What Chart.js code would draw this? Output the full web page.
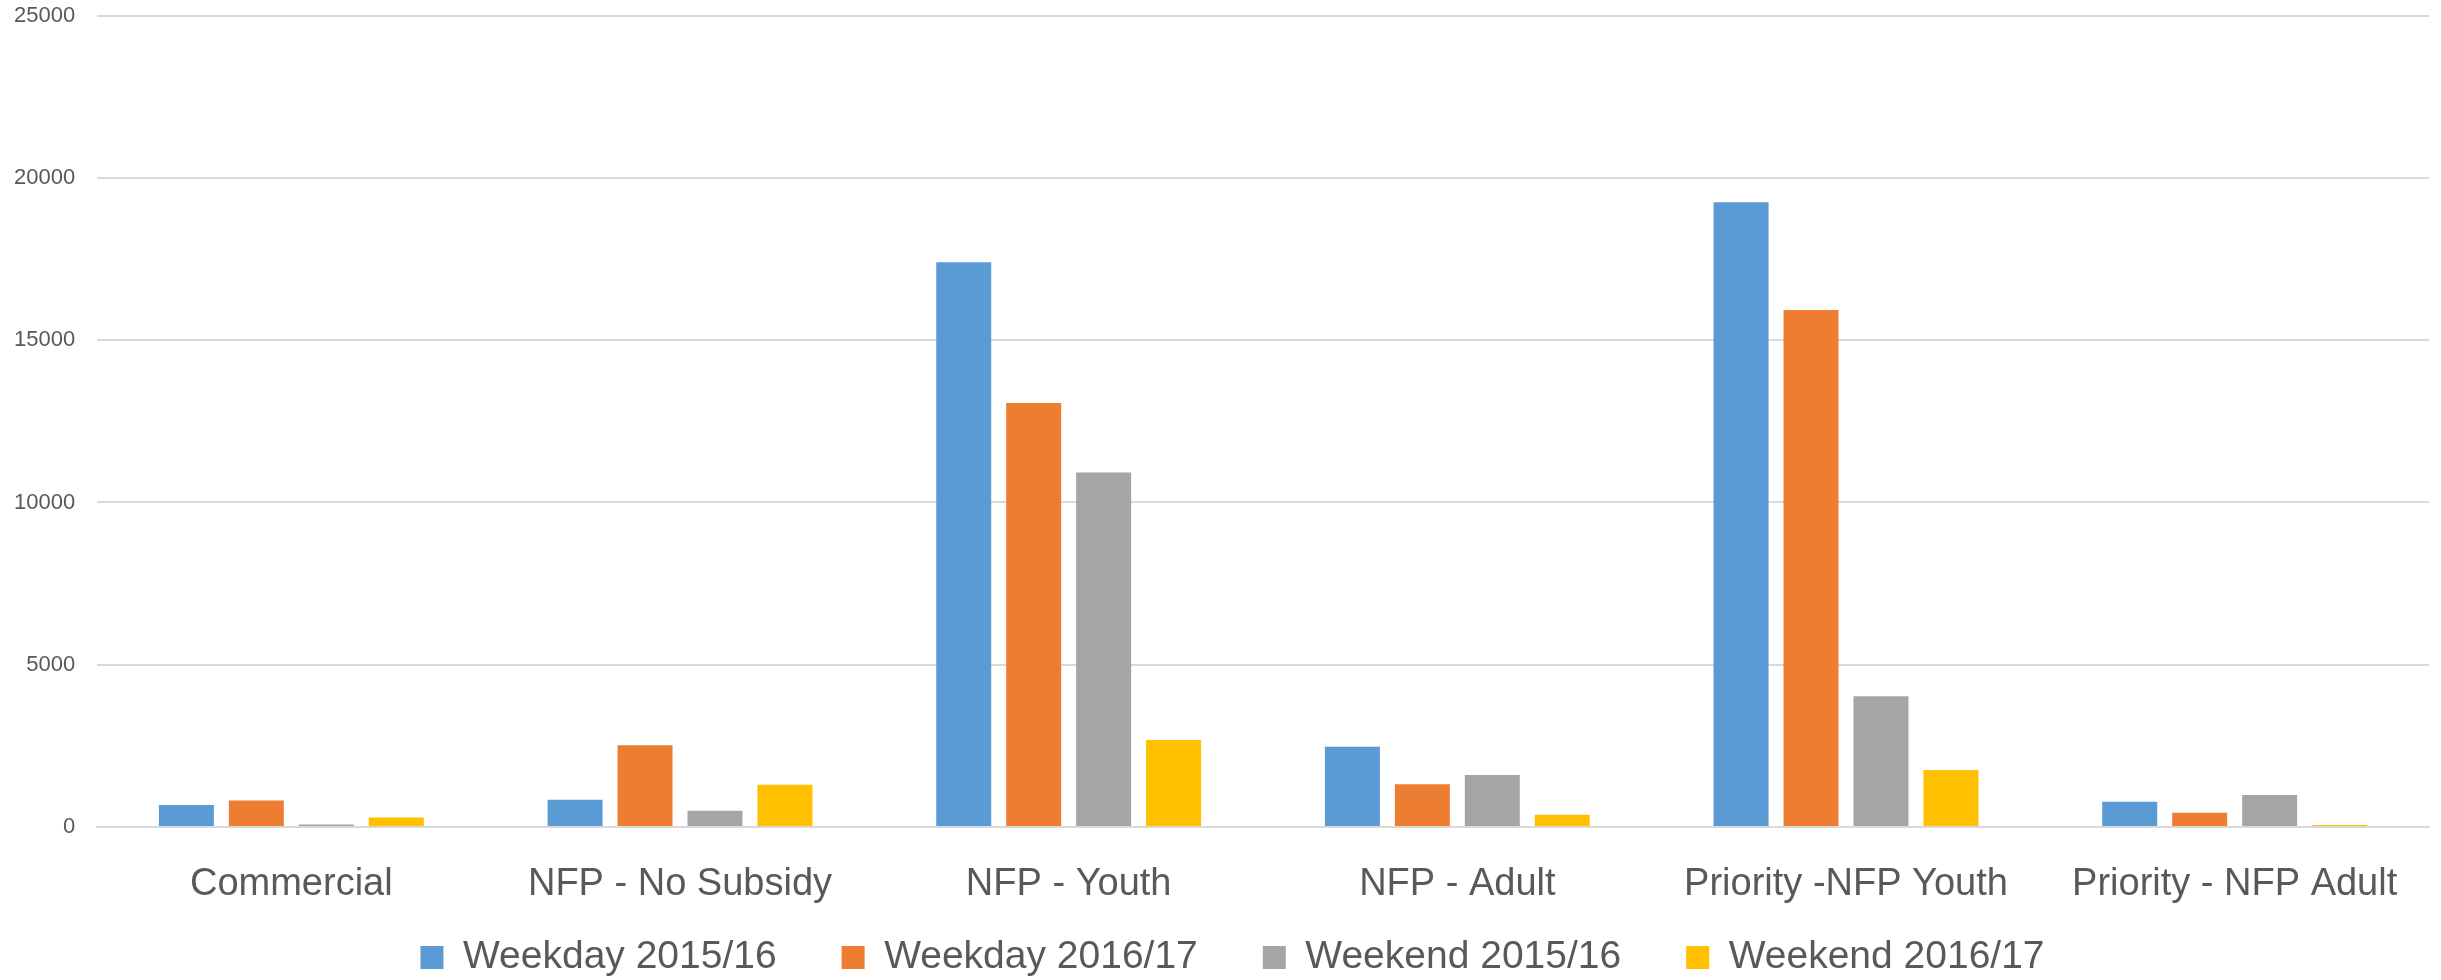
<!DOCTYPE html>
<html>
<head>
<meta charset="utf-8">
<script src="https://cdn.jsdelivr.net/npm/chart.js@4"></script>
<style>
  html, body { margin: 0; padding: 0; background: #ffffff; }
  #wrap { width: 2441px; height: 980px; }
</style>
</head>
<body>
<div id="wrap"><canvas id="canvas" width="2441" height="980"></canvas></div>
<script>
const categories = ["Commercial", "NFP - No Subsidy", "NFP - Youth", "NFP - Adult", "Priority -NFP Youth", "Priority - NFP Adult"];
const weekday1516 = [680, 840, 17400, 2470, 19250, 780];
const weekday1617 = [820, 2520, 13060, 1320, 15930, 440];
const weekend1516 = [80, 500, 10920, 1600, 4030, 985];
const weekend1617 = [290, 1300, 2680, 380, 1760, 60];
const yTicks = [0, 5000, 10000, 15000, 20000, 25000];

const textColor = "#595959";
const gridColor = "#d9d9d9";
const fontFamily = "'Liberation Sans', Arial, sans-serif";

const canvas = document.querySelector("#canvas");
const chart = new Chart(canvas, {
  type: "bar",
  data: {
    labels: categories,
    datasets: [
      { label: "Weekday 2015/16", data: weekday1516, backgroundColor: "#5b9bd5" },
      { label: "Weekday 2016/17", data: weekday1617, backgroundColor: "#ed7d31" },
      { label: "Weekend 2015/16", data: weekend1516, backgroundColor: "#a5a5a5" },
      { label: "Weekend 2016/17", data: weekend1617, backgroundColor: "#ffc000" },
    ],
  },
  options: {
    responsive: false,
    animation: false,
    categoryPercentage: 0.72,
    barPercentage: 0.786,
    layout: { padding: { top: 3, right: 12, bottom: -7, left: 36 } },
    plugins: {
      tooltip: { enabled: false },
      legend: {
        position: "bottom",
        labels: {
          boxWidth: 23,
          boxHeight: 23,
          padding: 65,
          color: textColor,
          font: { family: fontFamily, size: 39 },
        },
      },
    },
    scales: {
      x: {
        grid: { display: false },
        border: { display: true, color: gridColor, width: 2 },
        ticks: {
          color: textColor,
          mirror: true, // mirrored labels are not clipped to the short axis box
          padding: -80,
          maxRotation: 0,
          autoSkip: false,
          font: { family: fontFamily, size: 38 },
        },
        afterFit: (scale) => {
          scale.height = 46;
          scale.paddingLeft = 0;
          scale.paddingRight = 0;
        },
      },
      y: {
        min: 0,
        max: 25000,
        afterBuildTicks: (scale) => { scale.ticks = yTicks.map(v => ({ value: v })); },
        grid: { color: gridColor, lineWidth: 2, drawTicks: false },
        border: { display: false },
        ticks: {
          color: textColor,
          mirror: true,
          crossAlign: "far",
          padding: -83,
          callback: (value) => String(value),
          font: { family: fontFamily, size: 22 },
        },
        afterFit: (scale) => {
          scale.width = 61;
          scale.paddingTop = 15.6;
        },
      },
    },
  },
});
</script>
</body>
</html>
